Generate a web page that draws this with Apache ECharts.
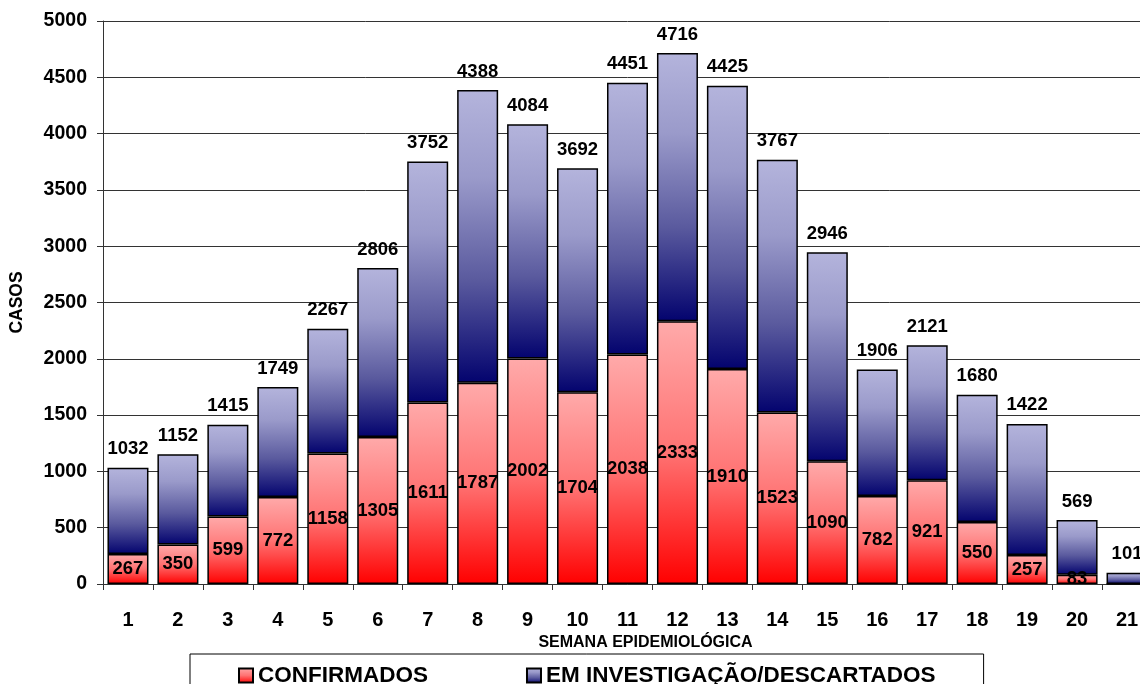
<!DOCTYPE html>
<html>
<head>
<meta charset="utf-8">
<script src="https://cdn.jsdelivr.net/npm/echarts@6/dist/echarts.min.js"></script>
<style>
html,body{margin:0;padding:0;background:#fff;overflow:hidden;width:1140px;height:684px;}
#chart{width:1152px;height:684px;}
</style>
</head>
<body>
<div id="chart"></div>
<script>
const weeks = ['1','2','3','4','5','6','7','8','9','10','11','12','13','14','15','16','17','18','19','20','21'];
const confirmados = [267,350,599,772,1158,1305,1611,1787,2002,1704,2038,2333,1910,1523,1090,782,921,550,257,83,0];
const totais = [1032,1152,1415,1749,2267,2806,3752,4388,4084,3692,4451,4716,4425,3767,2946,1906,2121,1680,1422,569,101];
const investigacao = totais.map((t, i) => t - confirmados[i]);
const yTicks = {min: 0, max: 5000, interval: 500};

const FONT = "'Liberation Sans', Arial, sans-serif";
const chart = echarts.init(document.getElementById('chart'));

const redGrad = new echarts.graphic.LinearGradient(0, 0, 0, 1, [
  {offset: 0, color: '#FFAAAA'},
  {offset: 0.5, color: '#FF7272'},
  {offset: 1, color: '#FF0000'}
]);
const blueGrad = new echarts.graphic.LinearGradient(0, 0, 0, 1, [
  {offset: 0, color: '#B4B4DC'},
  {offset: 0.3, color: '#9A9ACA'},
  {offset: 0.65, color: '#5A5A9E'},
  {offset: 1, color: '#03036E'}
]);

chart.setOption({
  animation: false,
  backgroundColor: '#fff',
  textStyle: {fontFamily: FONT},
  grid: {left: 102, top: 21, bottom: 100, right: 0, containLabel: false},
  legend: {
    left: 190, top: 654,
    padding: [10, 48, 20, 48],
    borderColor: '#000', borderWidth: 1,
    itemWidth: 14, itemHeight: 14, itemGap: 98,
    icon: 'rect',
    textStyle: {fontFamily: FONT, fontWeight: 'bold', fontSize: 22.5, color: '#000'},
    data: ['CONFIRMADOS', 'EM INVESTIGAÇÃO/DESCARTADOS']
  },
  xAxis: {
    type: 'category',
    data: weeks,
    name: 'SEMANA EPIDEMIOLÓGICA',
    nameLocation: 'middle',
    nameGap: 50,
    nameTextStyle: {fontFamily: FONT, fontWeight: 'bold', fontSize: 16, color: '#000', padding: [0, 0, 0, 36]},
    axisLine: {lineStyle: {color: '#333', width: 1}},
    axisTick: {show: true, alignWithLabel: false, length: 6, lineStyle: {color: '#333'}},
    axisLabel: {fontFamily: FONT, fontWeight: 'bold', fontSize: 20, color: '#000', margin: 26},
    splitLine: {show: false}
  },
  yAxis: {
    type: 'value',
    min: yTicks.min, max: yTicks.max, interval: yTicks.interval,
    name: 'CASOS',
    nameLocation: 'middle',
    nameGap: 77,
    nameRotate: 90,
    nameTextStyle: {fontFamily: FONT, fontWeight: 'bold', fontSize: 17.5, color: '#000'},
    axisLine: {show: true, lineStyle: {color: '#333', width: 1}},
    axisTick: {show: true, length: 6, lineStyle: {color: '#333'}},
    axisLabel: {fontFamily: FONT, fontWeight: 'bold', fontSize: 19.5, color: '#000', margin: 16,
      formatter: v => String(v)},
    splitLine: {show: true, lineStyle: {color: '#333', width: 1}}
  },
  series: [
    {
      name: 'CONFIRMADOS',
      type: 'bar',
      stack: 'total',
      barWidth: 41,
      data: confirmados,
      itemStyle: {color: redGrad, borderColor: '#000', borderWidth: 1.5},
      label: {
        show: true, position: 'inside',
        fontFamily: FONT, fontWeight: 'bold', fontSize: 18.5, color: '#000',
        formatter: p => p.value > 0 ? String(p.value) : ''
      }
    },
    {
      name: 'EM INVESTIGAÇÃO/DESCARTADOS',
      type: 'bar',
      stack: 'total',
      barWidth: 41,
      data: investigacao,
      itemStyle: {color: blueGrad, borderColor: '#000', borderWidth: 1.5},
      label: {
        show: true, position: 'top', distance: 9,
        fontFamily: FONT, fontWeight: 'bold', fontSize: 18.5, color: '#000',
        formatter: p => String(totais[p.dataIndex])
      }
    }
  ]
});
</script>
</body>
</html>
